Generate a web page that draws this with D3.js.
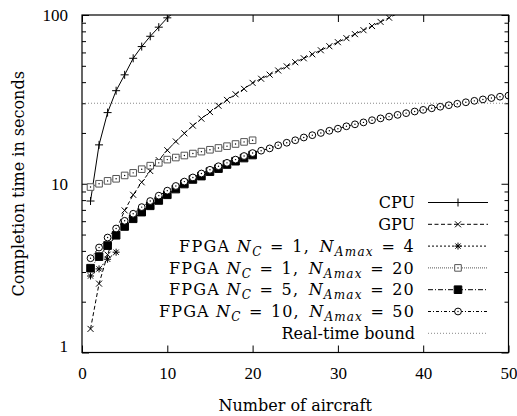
<!DOCTYPE html>
<html>
<head>
<meta charset="utf-8">
<script src="https://cdn.jsdelivr.net/npm/d3@7"></script>
<style>
  body { margin: 0; background: #fff; }
  text { font-family: "DejaVu Serif", serif; fill: #000; }
</style>
</head>
<body>
<div id="chart"></div>
<script>
// completion times in seconds, one value per number of aircraft (starting at 1)
var cpuTime = [7.9, 17, 26.4, 35.6, 44.2, 55.4, 65, 74.8, 84.7, 96.2, 106];
var gpuTime = [1.38, 2.56, 3.8, 5.3, 6.95, 8.6, 10.2, 11.9, 13.8, 15.8,
  17.8, 19.9, 22.1, 24.3, 26.6, 29.0, 31.4, 33.9, 36.5, 39.6,
  41.9, 44.3, 46.9, 49.6, 52.5, 55.4, 58.5, 61.8, 65.3, 69.0,
  72.9, 77.0, 81.3, 86.0, 91.0, 96.4, 102];
var fpga1x4 = [2.84, 3.13, 3.57, 3.93];
var fpga1x20 = [9.56, 10.0, 10.4, 10.7, 11.2, 11.6, 12.2, 12.8, 13.3, 13.9,
  14.3, 14.7, 15.1, 15.5, 15.9, 16.3, 16.7, 17.2, 17.7, 18.1];
var fpga5x20 = [3.16, 3.70, 4.30, 4.95, 5.58, 6.2, 6.79, 7.4, 7.96, 8.6,
  9.3, 9.96, 10.6, 11.1, 11.8, 12.3, 13.0, 13.6, 14.2, 14.8];
var fpga10x50 = [3.62, 4.19, 4.8, 5.43, 6.03, 6.64, 7.27, 7.9, 8.5, 9.1,
  9.7, 10.3, 10.9, 11.5, 12.1, 12.7, 13.3, 13.9, 14.6, 15.2,
  15.7, 16.2, 16.9, 17.5, 18.1, 18.8, 19.4, 20.0, 20.6, 21.2,
  21.9, 22.5, 23.1, 23.8, 24.4, 25.0, 25.6, 26.2, 26.8, 27.4,
  28.0, 28.6, 29.2, 29.8, 30.4, 31.0, 31.6, 32.2, 32.8, 33.3];
var realTimeBound = 30;

var xTicks = [0, 10, 20, 30, 40, 50];
var yTicks = [1, 10, 100];
var yMinorTicks = [2, 3, 4, 5, 6, 7, 8, 9, 20, 30, 40, 50, 60, 70, 80, 90];

var w = 517, h = 416;
var padLeft = 82, padRight = 508.5, padTop = 15, padBottom = 352.5;

var svg = d3.select("#chart").append("svg")
  .attr("width", w)
  .attr("height", h);

var x = d3.scaleLinear().domain([0, 50]).range([padLeft, padRight]);
var y = d3.scaleLog().domain([1, 100]).range([padBottom, padTop]);

svg.append("clipPath")
  .attr("id", "plot-area")
  .append("rect")
  .attr("x", padLeft)
  .attr("y", padTop)
  .attr("width", padRight - padLeft)
  .attr("height", padBottom - padTop);

// axes, gnuplot style: ticks point inwards and are mirrored
function cleanAxis(g) {
  g.select(".domain").remove();
  g.selectAll(".tick line").attr("stroke", "#000");
  g.selectAll("text").style("font-size", "17px").style("font-family", "Liberation Serif");
}

svg.append("g")
  .attr("transform", "translate(0," + padBottom + ")")
  .call(d3.axisBottom(x).tickValues(xTicks).tickSize(-7).tickPadding(14))
  .call(cleanAxis);

svg.append("g")
  .attr("transform", "translate(0," + padTop + ")")
  .call(d3.axisTop(x).tickValues(xTicks).tickSize(-7).tickFormat(""))
  .call(cleanAxis);

var yAxisG = svg.append("g")
  .attr("transform", "translate(" + padLeft + ",0)")
  .call(d3.axisLeft(y).tickValues(yTicks).tickFormat(d3.format("d")).tickSize(-7).tickPadding(14))
  .call(cleanAxis);
yAxisG.selectAll(".tick text").filter(function(d) { return d === 1; }).attr("dy", "-0.05em");

svg.append("g")
  .attr("transform", "translate(" + padLeft + ",0)")
  .call(d3.axisLeft(y).tickValues(yMinorTicks).tickFormat("").tickSize(-4))
  .call(cleanAxis);

svg.append("g")
  .attr("transform", "translate(" + padRight + ",0)")
  .call(d3.axisRight(y).tickValues(yTicks).tickFormat("").tickSize(-7))
  .call(cleanAxis);

svg.append("g")
  .attr("transform", "translate(" + padRight + ",0)")
  .call(d3.axisRight(y).tickValues(yMinorTicks).tickFormat("").tickSize(-4))
  .call(cleanAxis);

svg.append("text")
  .attr("transform", "translate(18," + ((padTop + padBottom) / 2) + ") rotate(-90)")
  .attr("text-anchor", "middle")
  .attr("dy", "0.35em")
  .style("font-size", "16px")
  .text("Completion time in seconds");

svg.append("text")
  .attr("x", (padLeft + padRight) / 2)
  .attr("y", 405)
  .attr("text-anchor", "middle")
  .attr("dy", "0.35em")
  .style("font-size", "16px")
  .text("Number of aircraft");

// markers
function markerPath(type, s) {
  if (type === "plus") return "M" + (-s) + ",0H" + s + "M0," + (-s) + "V" + s;
  if (type === "times") return "M" + (-s) + "," + (-s) + "L" + s + "," + s + "M" + (-s) + "," + s + "L" + s + "," + (-s);
  if (type === "star") return markerPath("plus", s) + markerPath("times", s * 0.75);
  if (type === "square" || type === "fsquare") return "M" + (-s) + "," + (-s) + "H" + s + "V" + s + "H" + (-s) + "Z";
  if (type === "circle") return d3.arc()({ innerRadius: 0, outerRadius: s, startAngle: 0, endAngle: 2 * Math.PI });
}

var series = [
  { name: "CPU", values: cpuTime, dash: null, marker: "plus", size: 4 },
  { name: "GPU", values: gpuTime, dash: "4,2.5", marker: "times", size: 3 },
  { name: "fpga1x4", values: fpga1x4, dash: "2,2", marker: "star", size: 3.5, nc: "1", na: "4", width: 219 },
  { name: "fpga1x20", values: fpga1x20, dash: "1,1", marker: "square", size: 3.3, nc: "1", na: "20", width: 229, color: "#555" },
  { name: "fpga5x20", values: fpga5x20, dash: "5,2,1,2", marker: "fsquare", size: 3.8, nc: "5", na: "20", width: 229 },
  { name: "fpga10x50", values: fpga10x50, dash: "3,2,1,2", marker: "circle", size: 3.4, nc: "10", na: "50", width: 239 }
];

var line = d3.line()
  .x(function(d, i) { return x(i + 1); })
  .y(function(d) { return y(d); });

var plot = svg.append("g").attr("clip-path", "url(#plot-area)");

plot.append("line")
  .attr("x1", padLeft).attr("x2", padRight)
  .attr("y1", y(realTimeBound)).attr("y2", y(realTimeBound))
  .attr("stroke", "#888")
  .attr("stroke-width", 1)
  .attr("stroke-dasharray", "1,2");

function drawMarker(g, s, px, py) {
  var m = g.append("g").attr("transform", "translate(" + px + "," + py + ")");
  m.append("path")
    .attr("d", markerPath(s.marker, s.size))
    .attr("fill", s.marker === "fsquare" ? "#000" : (s.marker === "square" || s.marker === "circle") ? "#fff" : "none")
    .attr("stroke", s.color || "#000")
    .attr("stroke-width", 1);
  if (s.marker === "square" || s.marker === "circle") {
    m.append("circle").attr("r", 0.7).attr("fill", "#000");
  }
}

series.forEach(function(s) {
  plot.append("path")
    .datum(s.values)
    .attr("d", line)
    .attr("fill", "none")
    .attr("stroke", s.color || "#000")
    .attr("stroke-width", 1)
    .attr("stroke-dasharray", s.dash);
  s.values.forEach(function(v, i) {
    if (v <= 100) drawMarker(plot, s, x(i + 1), y(v));
  });
});

// legend
var legend = svg.append("g");
var rowY = 202.5, rowH = 21.8, textX = 415, lineX1 = 428, lineX2 = 488;

series.concat([{ name: "Real-time bound", bound: true }]).forEach(function(s, i) {
  var ry = rowY + i * rowH;
  var t = legend.append("text")
    .attr("x", textX)
    .attr("y", ry)
    .attr("dy", "0.35em")
    .attr("text-anchor", "end")
    .style("font-size", "16px");
  if (s.nc) {
    // math-like label, stretched to the width seen in the reference
    t.append("tspan").text("FPGA ");
    t.append("tspan").style("font-style", "italic").text("N");
    t.append("tspan").style("font-style", "italic").style("font-size", "12px").attr("dy", 4).text("C");
    var g1 = t.append("tspan").attr("dy", -4).attr("dx", 3).text("=");
    var g2 = t.append("tspan").attr("dx", 3).text(s.nc + ",");
    var g3 = t.append("tspan").attr("dx", 5).style("font-style", "italic").text("N");
    t.append("tspan").style("font-style", "italic").style("font-size", "12px").attr("dy", 4).text("Amax");
    var g4 = t.append("tspan").attr("dy", -4).attr("dx", 3).text("=");
    var g5 = t.append("tspan").attr("dx", 3).text(s.na);
    var nChars = t.text().length;
    var extra = Math.max(0, s.width - t.node().getComputedTextLength());
    t.style("letter-spacing", (extra * 0.5 / nChars) + "px");
    extra = Math.max(0, s.width - t.node().getComputedTextLength());
    var gaps = [g1, g2, g3, g4, g5];
    gaps.forEach(function(g) { g.attr("dx", +g.attr("dx") + extra / gaps.length); });
  } else {
    t.text(s.name);
  }
  legend.append("line")
    .attr("x1", lineX1).attr("x2", lineX2)
    .attr("y1", ry).attr("y2", ry)
    .attr("stroke", s.bound ? "#888" : (s.color || "#000"))
    .attr("stroke-width", 1)
    .attr("stroke-dasharray", s.bound ? "1,2" : s.dash);
  if (!s.bound) drawMarker(legend, s, (lineX1 + lineX2) / 2, ry);
});

// border
svg.append("rect")
  .attr("x", padLeft).attr("y", padTop)
  .attr("width", padRight - padLeft).attr("height", padBottom - padTop)
  .attr("fill", "none")
  .attr("stroke", "#000")
  .attr("stroke-width", 1.2);
</script>
</body>
</html>
